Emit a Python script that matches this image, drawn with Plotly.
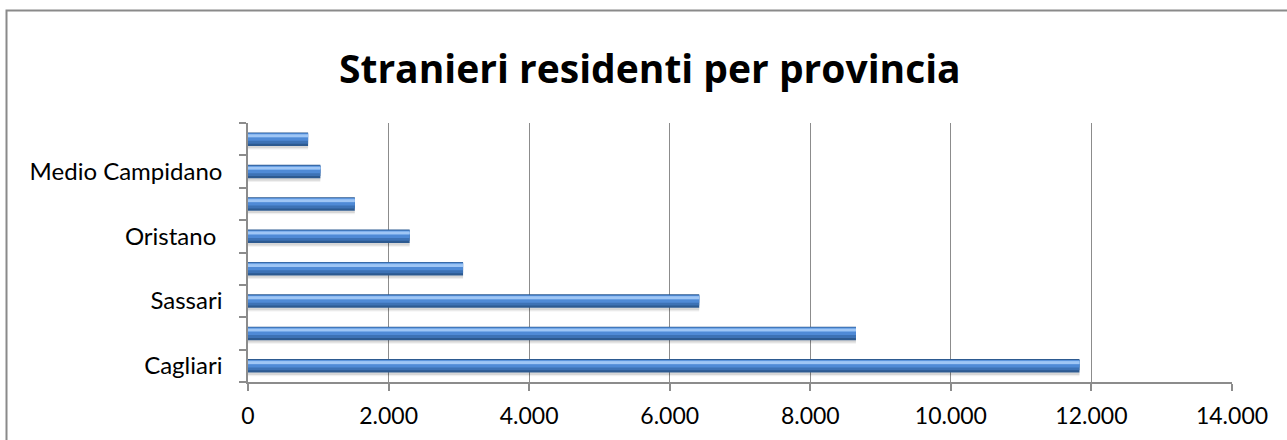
import plotly.graph_objects as go

# Foreign residents by province (bottom to top)
province = ["Cagliari", "Olbia-Tempio", "Sassari", "Nuoro",
            "Oristano\u00a0", "Carbonia-Iglesias", "Medio Campidano", "Ogliastra"]
stranieri = [11830, 8650, 6420, 3060, 2300, 1520, 1030, 855]
# only every other province gets a label on the axis
etichette = ["Cagliari", "", "Sassari", "", "Oristano\u00a0", "", "Medio Campidano", ""]

x_ticks = [0, 2000, 4000, 6000, 8000, 10000, 12000, 14000]

W, H = 1287, 440
L, R, T, B = 248, 1232, 123, 382
pw, ph = R - L, B - T

def px(xp):
    return (xp - L) / pw

def py(yp):
    return (B - yp) / ph

fig = go.Figure()

# bevelled bar look built from stacked bands of the same bars
layers = [
    # (offset, width, colour)
    (-0.32, 0.12, "rgba(0,0,0,0.06)"),   # soft shadow
    (-0.28, 0.08, "rgba(0,0,0,0.10)"),
    (-0.21, 0.42, "#2d5a90"),            # dark body / edge
    (-0.14, 0.32, "#3d72b5"),
    (-0.05, 0.23, "#4f8ad6"),
    (0.05, 0.11, "#80b2ee"),             # highlight stripe
    (0.08, 0.06, "#9fc6f5"),
]
for off, wdt, col in layers:
    fig.add_trace(go.Bar(
        y=province, x=stranieri, orientation="h",
        offset=off, width=wdt,
        marker=dict(color=col, line=dict(width=0)),
        hoverinfo="skip" if col.startswith("rgba") else None,
        showlegend=False,
    ))

fig.update_layout(
    width=W, height=H, autosize=False,
    margin=dict(l=L, r=W - R, t=T, b=H - B, pad=0),
    barmode="overlay",
    plot_bgcolor="white", paper_bgcolor="white",
    separators=",.",
    font=dict(family="Lato, 'Open Sans', sans-serif", color="#000000"),
    xaxis=dict(
        range=[0, 14000], tickvals=x_ticks, tickformat=",d",
        showgrid=True, gridcolor="#8c8c8c", gridwidth=1.2,
        showline=True, linecolor="#8c8c8c", linewidth=1.5,
        ticks="outside", ticklen=7, tickcolor="#8c8c8c", tickwidth=1.5,
        tickfont=dict(size=23), ticklabelstandoff=6,
        zeroline=False, fixedrange=True,
    ),
    yaxis=dict(
        type="category", categoryorder="array", categoryarray=province,
        tickvals=province, ticktext=etichette,
        tickson="boundaries",
        showgrid=False,
        showline=True, linecolor="#8c8c8c", linewidth=1.5,
        ticks="outside", ticklen=7, tickcolor="#8c8c8c", tickwidth=1.5,
        tickfont=dict(size=24), ticklabelstandoff=19,
        range=[-0.5, len(province) - 0.5], fixedrange=True,
    ),
    shapes=[dict(
        type="rect", xref="paper", yref="paper",
        x0=px(6.5), x1=px(1300), y0=py(460), y1=py(10.5),
        line=dict(color="#8a8a8a", width=2), layer="below",
    )],
    annotations=[dict(
        text="<b>Stranieri residenti per provincia</b>",
        xref="paper", yref="paper", x=px(649.5), y=py(67),
        xanchor="center", yanchor="middle", showarrow=False,
        font=dict(size=39, family="'Open Sans', Lato, sans-serif", color="#000000"),
    )],
)

fig.write_html("out.html")
